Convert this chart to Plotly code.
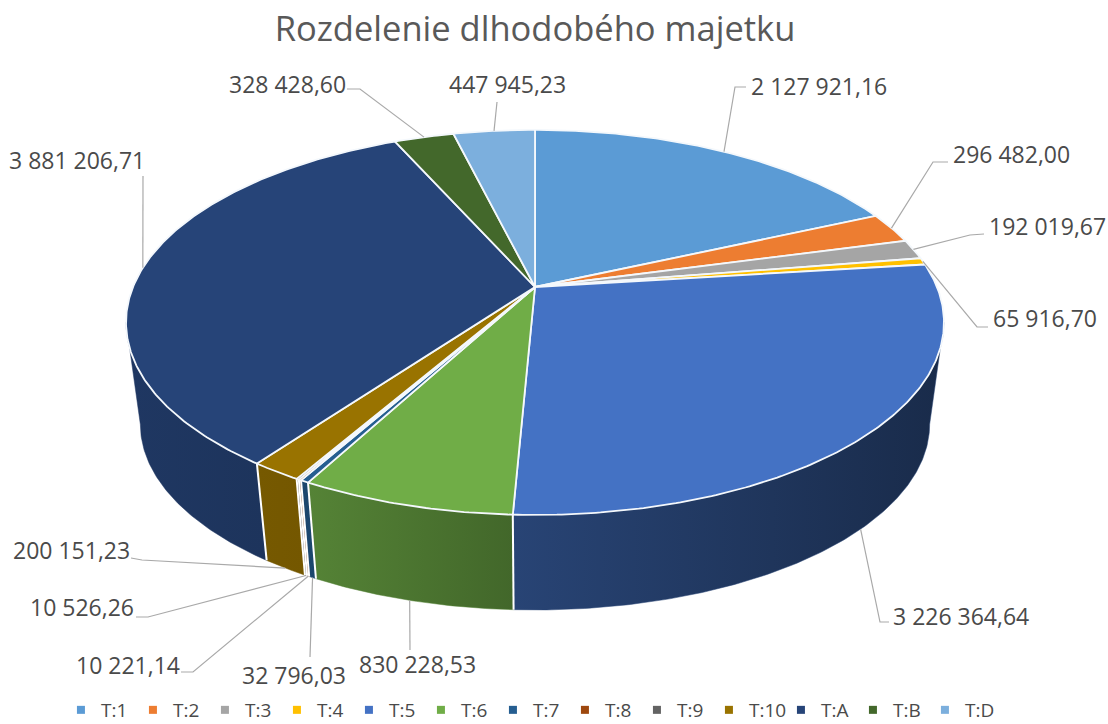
import numpy as np
import plotly.graph_objects as go

# ---- data ----
categories = ["T:1", "T:2", "T:3", "T:4", "T:5", "T:6", "T:7", "T:8", "T:9", "T:10", "T:A", "T:B", "T:D"]
values = [2127921.16, 296482.00, 192019.67, 65916.70, 3226364.64, 830228.53, 32796.03,
          10221.14, 10526.26, 200151.23, 3881206.71, 328428.60, 447945.23]
value_labels = ["2 127 921,16", "296 482,00", "192 019,67", "65 916,70", "3 226 364,64", "830 228,53",
                "32 796,03", "10 221,14", "10 526,26", "200 151,23", "3 881 206,71", "328 428,60", "447 945,23"]
colors = ["#5B9BD5", "#ED7D31", "#A5A5A5", "#FFC000", "#4472C4", "#70AD47", "#255E91",
          "#9E480E", "#636363", "#997300", "#264478", "#43682B", "#7CAFDD"]

# ---- placement of labels (left x, centre y) and leader elbows, separate from the data ----
label_pos = [(749, 86), (951, 154), (987, 226), (991, 318), (891, 616), (357, 664),
             (240, 675), (74, 665), (28, 607), (11, 550), (7, 160), (227, 84), (447, 84)]
leader_elbows = [[(735, 87), (746, 87)], [(933, 162), (948, 162)], [(970, 235), (984, 234)],
                 [(977, 327), (988, 327)], [(880, 622), (889, 622)], [(410, 650)],
                 [(310, 657)], [(193, 672), (181, 672)], [(148, 617), (136, 617)],
                 [(142, 560), (131, 558)], [(143, 176)], [(360, 89), (347, 89)], [(497, 102)]]
# slices whose leader starts on the lower rim of the disc
lower_rim = [False, False, False, False, True, True, True, True, True, True, False, False, False]

CX, CY = 535.0, 287.0      # pie centre on the top face
BX, AY, K = 402.0, 186.0, 0.184   # perspective of the disc
DEPTH, SHRINK = 103.0, 0.965      # lower rim offset and scale
TITLE_COLOR = "#595959"
TEXT_COLOR = "#4A4A4A"
LEADER = "#A9A9A9"


def project(theta, lower=False):
    """Clockwise angle from 12 o'clock to screen position, on the top or lower rim."""
    x, y = np.sin(theta), np.cos(theta)
    s = SHRINK if lower else 1.0
    d = DEPTH if lower else 0.0
    return CX + s * BX * x / (1 + K * y), CY + d - s * AY * y / (1 + K * y)


def shade(hex_color, f):
    r, g, b = (int(hex_color[i:i + 2], 16) for i in (1, 3, 5))
    return f"rgb({int(r * f)},{int(g * f)},{int(b * f)})"


def shade_at(x):
    return float(np.interp(x, [130, 310, 510, 930], [0.82, 0.76, 0.60, 0.38]))


vals = np.array(values)
edges = np.concatenate([[0], np.cumsum(vals)]) / vals.sum() * 2 * np.pi

fig = go.Figure()


def arc(a, b):
    return np.linspace(a, b, max(2, int((b - a) / 0.01) + 2))


# wall: only the part between the two silhouette angles faces the viewer
vis_a = np.arccos(-K)
vis_b = 2 * np.pi - vis_a
for i in range(len(vals)):
    a, b = max(edges[i], vis_a), min(edges[i + 1], vis_b)
    if b <= a:
        continue
    t = arc(a, b)
    xt, yt = project(t)
    xb, yb = project(t[::-1], True)
    px = np.concatenate([xt, xb, xt[:1]])
    py = np.concatenate([yt, yb, yt[:1]])
    c0, c1 = shade(colors[i], shade_at(px.min())), shade(colors[i], shade_at(px.max()))
    fig.add_trace(go.Scatter(
        x=px, y=py, mode="lines", fill="toself", line=dict(width=0.5, color=c0),
        fillgradient=dict(type="horizontal", colorscale=[[0, c0], [1, c1]]),
        hoverinfo="skip", showlegend=False))

# white separators on the visible wall
for e in edges[:-1]:
    if vis_a < e < vis_b:
        x0, y0 = project(e)
        x1, y1 = project(e, True)
        fig.add_trace(go.Scatter(x=[x0, x1], y=[y0, y1], mode="lines",
                                 line=dict(color="white", width=2), hoverinfo="skip", showlegend=False))

# top faces
for i in range(len(vals)):
    t = arc(edges[i], edges[i + 1])
    xt, yt = project(t)
    fig.add_trace(go.Scatter(
        x=np.concatenate([[CX], xt, [CX]]), y=np.concatenate([[CY], yt, [CY]]),
        mode="lines", fill="toself", fillcolor=colors[i],
        line=dict(color="#F4F8FC", width=1.8), hoverinfo="skip", showlegend=False))

# leader lines
for i in range(len(vals)):
    mid = (edges[i] + edges[i + 1]) / 2
    x0, y0 = project(mid, lower_rim[i])
    pts = [(float(x0), float(y0))] + leader_elbows[i]
    fig.add_trace(go.Scatter(x=[p[0] for p in pts], y=[p[1] for p in pts], mode="lines",
                             line=dict(color=LEADER, width=1.2), hoverinfo="skip", showlegend=False))

# legend entries
for name, col in zip(categories, colors):
    fig.add_trace(go.Scatter(x=[None], y=[None], mode="markers", name=name,
                             marker=dict(symbol="square", size=8, color=col)))

annotations = [dict(x=p[0], y=p[1], xref="x", yref="y", text=t, showarrow=False, xanchor="left",
                    yanchor="middle", font=dict(family="Open Sans", size=23, color=TEXT_COLOR))
               for t, p in zip(value_labels, label_pos)]

fig.update_layout(
    width=1108, height=724, margin=dict(l=0, r=0, t=0, b=0, autoexpand=False),
    paper_bgcolor="white", plot_bgcolor="white",
    title=dict(text="Rozdelenie dlhodobého majetku", x=535 / 1108, xanchor="center",
               y=1 - 29 / 724, yanchor="middle",
               font=dict(family="Open Sans", size=34.5, color=TITLE_COLOR)),
    xaxis=dict(range=[0, 1108], visible=False, fixedrange=True),
    yaxis=dict(range=[724, 0], visible=False, fixedrange=True),
    legend=dict(orientation="h", x=0.055, y=-5 / 724, xanchor="left", yanchor="bottom",
                font=dict(family="Open Sans", size=19, color=TEXT_COLOR), itemwidth=30,
                entrywidth=27, entrywidthmode="pixels",
                traceorder="normal", bgcolor="rgba(0,0,0,0)"),
    annotations=annotations,
)

fig.write_html("out.html", config=dict(displayModeBar=False),
               post_script="document.body.style.margin='0';document.body.style.overflow='hidden';")
